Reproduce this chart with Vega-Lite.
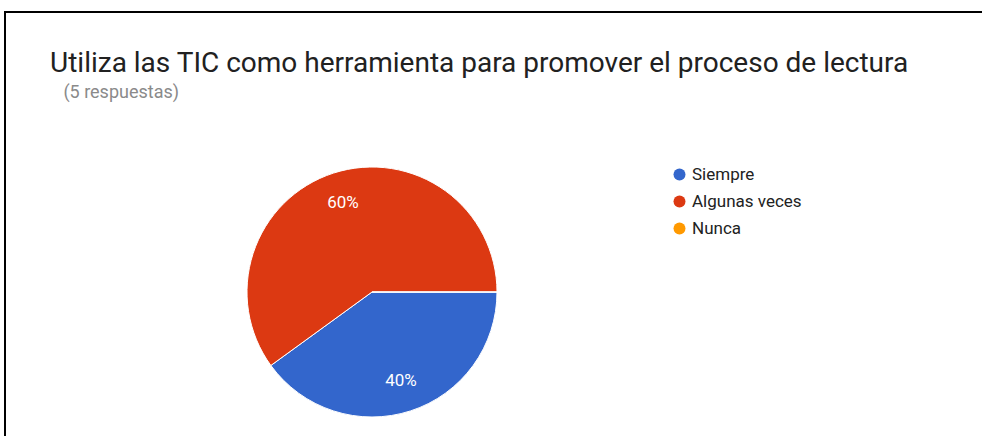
{
  "$schema": "https://vega.github.io/schema/vega-lite/v6.json",
  "autosize": "none",
  "width": 990,
  "height": 440,
  "padding": {"left": 5, "top": 12, "right": -13, "bottom": -16},
  "background": "white",
  "view": {"stroke": "#000000", "strokeWidth": 2, "fill": "white"},
  "title": {
    "text": "Utiliza las TIC como herramienta para promover el proceso de lectura",
    "subtitle": "\u200b\u00a0\u00a0\u00a0(5 respuestas)",
    "anchor": "start",
    "frame": "group",
    "orient": "top",
    "dx": 45,
    "dy": 94,
    "font": "Roboto",
    "fontSize": 28,
    "fontWeight": "normal",
    "color": "#212121",
    "subtitleFont": "Roboto",
    "subtitleFontSize": 18,
    "subtitleColor": "#8a8a8a",
    "subtitlePadding": 6
  },
  "data": {
    "values": [
      {"respuesta": "Siempre", "count": 2, "orden": 1, "pct": "40%"},
      {"respuesta": "Algunas veces", "count": 3, "orden": 2, "pct": "60%"},
      {"respuesta": "Nunca", "count": 0, "orden": 3, "pct": ""}
    ]
  },
  "encoding": {
    "theta": {"field": "count", "type": "quantitative", "stack": true, "scale": {"range": [1.5707963, 7.8539816]}},
    "order": {"field": "orden", "type": "quantitative"}
  },
  "layer": [
    {
      "mark": {"type": "arc", "radius": 125, "xOffset": -128, "yOffset": 60, "stroke": "white", "strokeWidth": 1},
      "encoding": {
        "color": {
          "field": "respuesta",
          "type": "nominal",
          "sort": ["Siempre", "Algunas veces", "Nunca"],
          "scale": {"domain": ["Siempre", "Algunas veces", "Nunca"], "range": ["#3366cc", "#dc3912", "#ff9900"]},
          "legend": {
            "title": null,
            "orient": "none",
            "legendX": 666,
            "legendY": 154,
            "symbolType": "circle",
            "symbolSize": 144,
            "symbolStrokeWidth": 0,
            "labelFont": "Roboto",
            "labelFontSize": 17,
            "labelColor": "#222222",
            "labelOffset": 4,
            "rowPadding": 9,
            "padding": 0
          }
        }
      }
    },
    {
      "mark": {"type": "text", "radius": 94, "xOffset": -128, "yOffset": 60, "fill": "white", "font": "Roboto", "fontSize": 17},
      "encoding": {
        "text": {"field": "pct", "type": "nominal"}
      }
    }
  ]
}
